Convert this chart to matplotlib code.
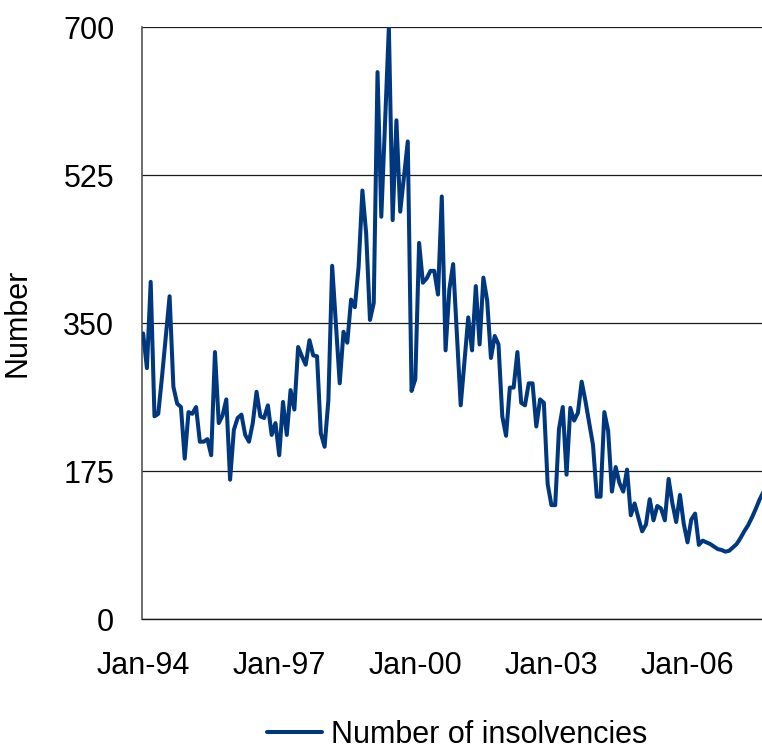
import matplotlib
matplotlib.use("Agg")
import matplotlib.pyplot as plt
import numpy as np

# Monthly insolvency counts, starting January 1994
insolvencies = [
    338, 297, 399, 240, 243, 287, 335, 382, 275, 255, 251, 190,   # 1994
    245, 243, 251, 210, 210, 213, 194, 316, 232, 241, 260, 165,   # 1995
    224, 238, 242, 218, 210, 232, 269, 240, 238, 253, 218, 232,   # 1996
    194, 257, 218, 271, 248, 322, 311, 301, 330, 312, 311, 220,   # 1997
    204, 259, 418, 348, 279, 340, 327, 378, 369, 417, 507, 456,   # 1998
    354, 374, 647, 476, 588, 700, 472, 590, 482, 523, 565, 270,   # 1999
    284, 445, 398, 403, 412, 412, 384, 500, 318, 390, 420, 337,   # 2000
    253, 305, 357, 318, 394, 325, 404, 377, 309, 335, 325, 240,   # 2001
    217, 274, 274, 316, 256, 253, 279, 279, 228, 260, 256, 160,   # 2002
    135, 135, 225, 251, 171, 250, 235, 244, 281, 258, 232, 206,   # 2003
    145, 145, 245, 223, 151, 180, 161, 151, 177, 123, 137, 120,   # 2004
    104, 112, 142, 117, 134, 131, 117, 166, 137, 115, 147, 113,   # 2005
    91, 118, 125, 88, 93, 91, 89, 86, 83, 82, 80, 81,             # 2006
    85, 89, 96, 104, 111, 120, 130, 141, 150,                     # 2007
]
tick_labels = ["Jan-94", "Jan-97", "Jan-00", "Jan-03", "Jan-06"]
months_between_ticks = 36
y_ticks = [0, 175, 350, 525, 700]
series_name = "Number of insolvencies"
y_title = "Number"

plt.rcParams["font.family"] = ["Liberation Sans", "DejaVu Sans"]
FS = 22

fig = plt.figure(figsize=(7.62, 7.53), dpi=100)
W, H = 762, 753
ax = fig.add_axes([142 / W, (H - 619.3) / H, (762 - 142) / W, (619.3 - 27.3) / H])

x = np.arange(len(insolvencies))
line, = ax.plot(x, insolvencies, color="#00387F", lw=2.9,
                solid_joinstyle="round", solid_capstyle="round",
                label=series_name, zorder=3)

ax.set_xlim(-0.3, 163.7)
ax.set_ylim(0, 700)

ax.set_yticks(y_ticks)
ax.set_yticklabels([str(v) for v in y_ticks])
ax.set_xticks([i * months_between_ticks for i in range(len(tick_labels))])
ax.set_xticklabels(tick_labels)

ax.tick_params(axis="both", length=0, labelsize=FS)
ax.tick_params(axis="y", pad=20)
ax.tick_params(axis="x", pad=23)

ax.yaxis.grid(True, color="#1a1a1a", lw=0.9)
ax.xaxis.grid(False)
ax.set_axisbelow(True)

for side in ("top", "right"):
    ax.spines[side].set_visible(False)
ax.spines["left"].set_color("#555555")
ax.spines["left"].set_linewidth(1.2)
ax.spines["bottom"].set_color("#1a1a1a")
ax.spines["bottom"].set_linewidth(1.0)

ax.set_ylabel(y_title, fontsize=FS, labelpad=22)

fig.legend(handles=[line], loc="center",
           bbox_to_anchor=(457 / W, 1 - 735 / H),
           frameon=False, fontsize=FS, handlelength=1.8,
           handletextpad=0.3, borderaxespad=0)

fig.savefig("out.png", dpi=100)
